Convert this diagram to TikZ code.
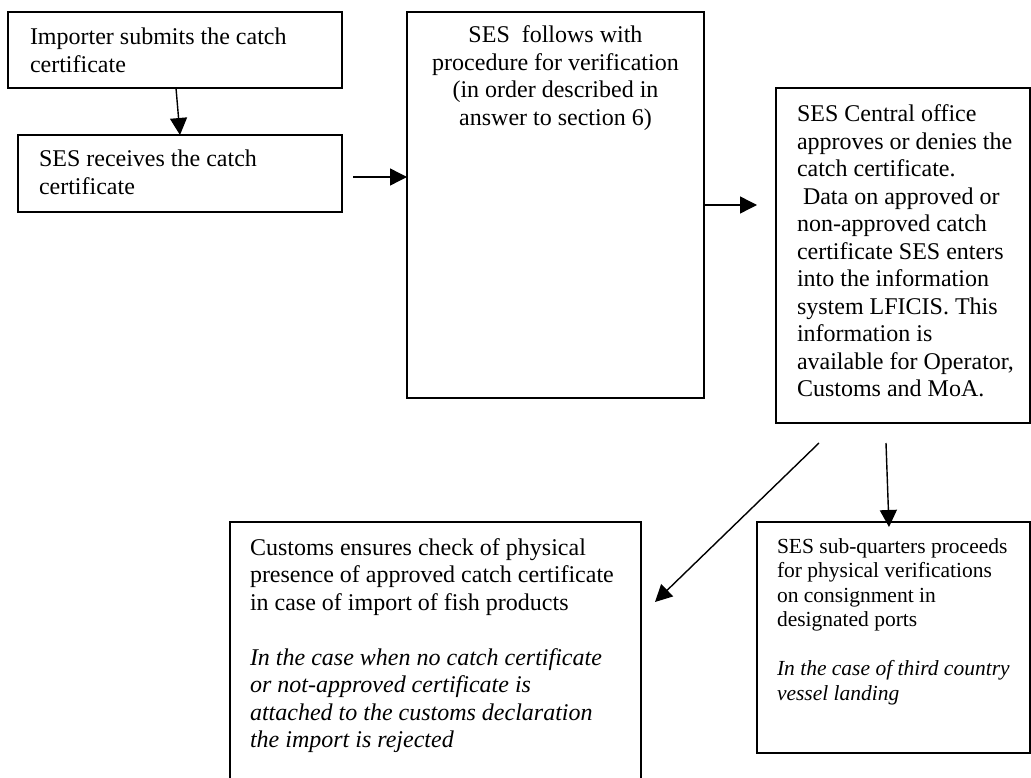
\documentclass[tikz,border=0pt]{standalone}
\usepackage{fontspec}
\setmainfont{Liberation Serif}
\usetikzlibrary{arrows.meta}
\newcommand\fbig{\fontsize{24}{27.5}\selectfont}
\newcommand\fsmall{\fontsize{21.5}{24.5}\selectfont}
\begin{document}
\begin{tikzpicture}[x=1pt,y=-1pt,
  box/.style={draw, line width=1.6pt, inner sep=0pt, outer sep=0pt, anchor=north west},
  txt/.style={anchor=base west, inner sep=0pt, outer sep=0pt},
  arr/.style={line width=1.4pt, -{Triangle[length=17pt,width=17pt]}}]
\useasboundingbox (0,0) rectangle (1031,778);
\clip (0,0) rectangle (1031,778);
% boxes
\node[box, minimum width=334pt, minimum height=76pt] (a) at (8,12) {};
\node[box, minimum width=324pt, minimum height=77pt] (b) at (18,135) {};
\node[box, minimum width=297pt, minimum height=386pt] (c) at (407,12) {};
\node[box, minimum width=254pt, minimum height=335pt] (d) at (776,88) {};
\node[box, minimum width=411pt, minimum height=280pt] (e) at (230,522) {};
\node[box, minimum width=273pt, minimum height=231pt] (f) at (757,522) {};
% texts
\node[txt] (ta) at (30,45) {\begin{minipage}[t]{320pt}\fbig
Importer submits the catch\\
certificate\end{minipage}};
\node[txt] (tb) at (39,167) {\begin{minipage}[t]{300pt}\fbig
SES receives the catch\\
certificate\end{minipage}};
\node[txt, anchor=base] (tc) at (555.5,43) {\begin{minipage}[t]{297pt}\centering\fbig
SES\ \ follows with\\
procedure for verification\\
(in order described in\\
answer to section 6)\end{minipage}};
\node[txt] (td) at (797,122) {\begin{minipage}[t]{240pt}\fbig
SES Central office\\
approves or denies the\\
catch certificate.\\
\hspace*{6pt}Data on approved or\\
non-approved catch\\
certificate SES enters\\
into the information\\
system LFICIS. This\\
information is\\
available for Operator,\\
Customs and MoA.\end{minipage}};
\node[txt] (te) at (250,555) {\begin{minipage}[t]{400pt}\fbig
Customs ensures check of physical\\
presence of approved catch certificate\\
in case of import of fish products\\[\baselineskip]
\itshape In the case when no catch certificate\\
or not-approved certificate is\\
attached to the customs declaration\\
the import is rejected\end{minipage}};
\node[txt] (tf) at (777,553) {\begin{minipage}[t]{260pt}\fsmall
SES sub-quarters proceeds\\
for physical verifications\\
on consignment in\\
designated ports\\[\baselineskip]
\itshape In the case of third country\\
vessel landing\end{minipage}};
% connectors
\draw[arr] ([xshift=168pt]a.south west) -- ([xshift=162pt]b.north west);
\draw[arr] ([xshift=11pt,yshift=-42pt]b.north east) -- ([yshift=-165pt]c.north west);
\draw[arr] ([yshift=-193pt]c.north east) -- ([xshift=-19pt,yshift=-117pt]d.north west);
\draw[arr] ([xshift=43pt,yshift=-20pt]d.south west) -- ([xshift=14pt,yshift=-80pt]e.north east);
\draw[arr] ([xshift=110pt,yshift=-20pt]d.south west) -- ([xshift=132pt,yshift=-5pt]f.north west);
\end{tikzpicture}
\end{document}
